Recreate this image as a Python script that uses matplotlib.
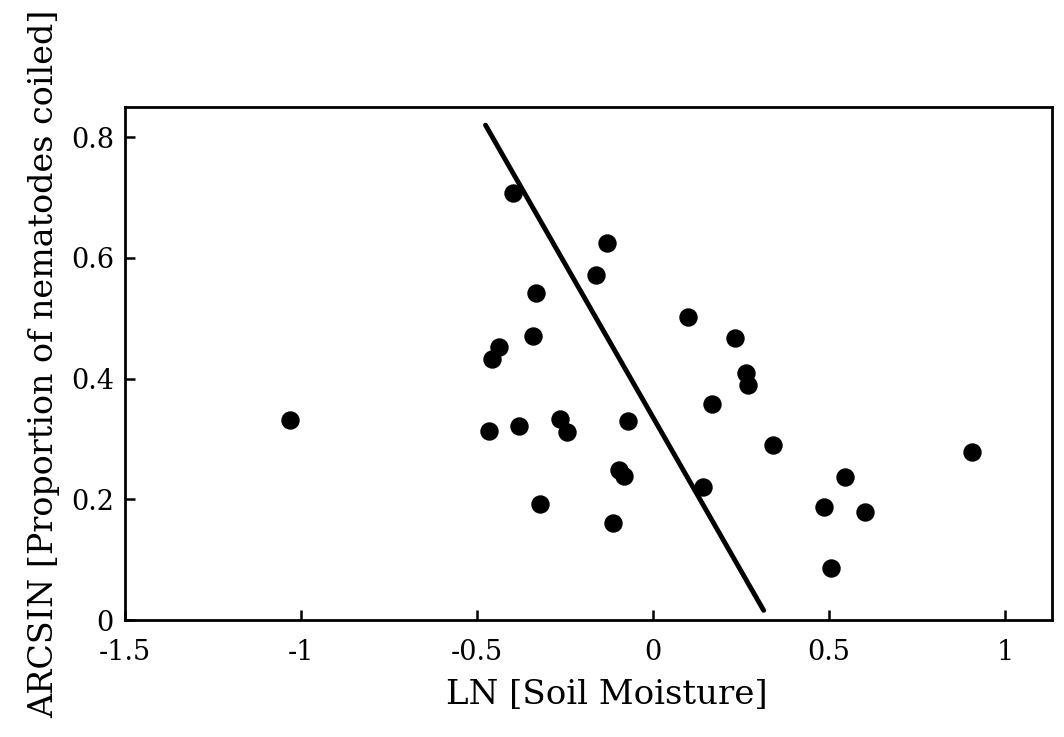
import matplotlib
matplotlib.use("Agg")
import matplotlib.pyplot as plt

plt.rcParams['font.family'] = ['DejaVu Serif']

# LN soil moisture vs ARCSIN proportion coiled
ln_moisture = [-1.032, -0.399, -0.131, -0.161, -0.334, -0.341, -0.439, -0.457,
               0.099, -0.467, -0.382, -0.265, -0.244, -0.072, -0.096, -0.084,
               -0.320, -0.115, 0.234, 0.264, 0.269, 0.166, 0.340, 0.141,
               0.544, 0.485, 0.603, 0.504, 0.906]
arcsin_coiled = [0.332, 0.707, 0.624, 0.571, 0.542, 0.471, 0.453, 0.433,
                 0.502, 0.314, 0.322, 0.333, 0.312, 0.330, 0.248, 0.239,
                 0.193, 0.161, 0.468, 0.410, 0.390, 0.358, 0.290, 0.220,
                 0.237, 0.188, 0.179, 0.087, 0.278]

# regression line endpoints
fit_x = [-0.476, 0.314]
fit_y = [0.820, 0.016]

xticks = [-1.5, -1, -0.5, 0, 0.5, 1]
xtick_labels = ['-1.5', '-1', '-0.5', '0', '0.5', '1']
yticks = [0, 0.2, 0.4, 0.6, 0.8]
ytick_labels = ['0', '0.2', '0.4', '0.6', '0.8']

fig = plt.figure(figsize=(10.64, 7.37), dpi=100)
ax = fig.add_axes([0.1175, 0.1587, 0.8712, 0.6961])

ax.scatter(ln_moisture, arcsin_coiled, s=150, color='black', zorder=3)
ax.plot(fit_x, fit_y, color='black', linewidth=3.5, solid_capstyle='round')

ax.set_xlim(-1.5, 1.133)
ax.set_ylim(0, 0.85)
ax.set_xticks(xticks)
ax.set_xticklabels(xtick_labels)
ax.set_yticks(yticks)
ax.set_yticklabels(ytick_labels)

ax.tick_params(direction='in', length=7, width=1.8, labelsize=19.5,
               top=False, right=False)
ax.tick_params(axis='x', pad=14)
ax.tick_params(axis='y', pad=8)
for sp in ax.spines.values():
    sp.set_linewidth(2)

ax.set_xlabel('LN [Soil Moisture]', fontsize=24.5, labelpad=12)
ax.xaxis.set_label_coords(0.52, -0.115)
ax.set_ylabel('ARCSIN [Proportion of nematodes coiled]', fontsize=24, labelpad=8)

fig.savefig('out.png', dpi=100)
